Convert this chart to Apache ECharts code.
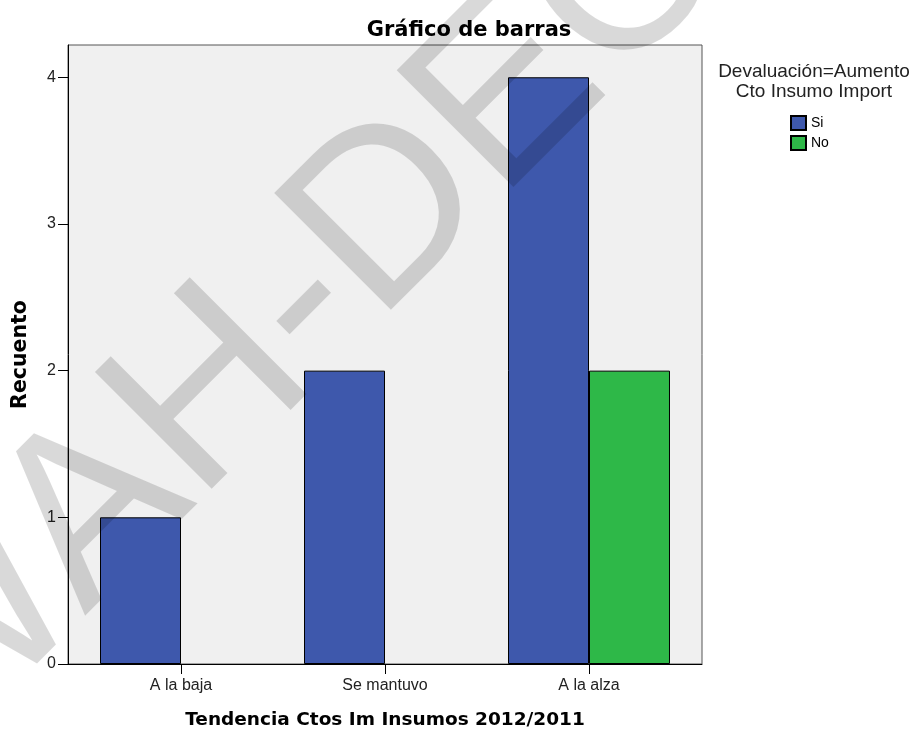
<!DOCTYPE html>
<html>
<head>
<meta charset="utf-8">
<script src="https://cdn.jsdelivr.net/npm/echarts@6/dist/echarts.min.js"></script>
<style>
  html, body { margin: 0; padding: 0; background: #fff; }
  #chart { width: 911px; height: 732px; }
</style>
</head>
<body>
<div id="chart"></div>
<script>
// datos
const categorias = ['A la baja', 'Se mantuvo', 'A la alza']
const valoresSi = [1, 2, 4]
const valoresNo = [null, null, 2]
const ticksY = [0, 1, 2, 3, 4]

let myChart = echarts.init(document.getElementById('chart'))
myChart.setOption({
  animation: false,
  backgroundColor: '#fff',
  title: [
    {
      text: 'Gráfico de barras',
      left: 464,
      top: 15,
      textAlign: 'center',
      textStyle: { fontFamily: 'DejaVu Sans', fontWeight: 'bold', fontSize: 21, color: '#000' }
    },
    {
      text: 'Devaluación=Aumento\nCto Insumo Import',
      left: 809,
      top: 57,
      textAlign: 'center',
      textStyle: { fontFamily: 'Liberation Sans', fontWeight: 'normal', fontSize: 19, lineHeight: 20, color: '#222' }
    }
  ],
  legend: {
    orient: 'vertical',
    left: 790,
    top: 115,
    padding: 0,
    itemWidth: 15,
    itemHeight: 14,
    itemGap: 4,
    itemTextGap: 2,
    icon: 'rect',
    textStyle: { fontFamily: 'Liberation Sans', fontSize: 14, color: '#000' },
    data: ['Si', 'No']
  },
  grid: [
    {
      // marco del area de trazado
      left: 68, right: 209, top: 45, bottom: 68,
      outerBoundsMode: 'none',
      show: true,
      backgroundColor: '#f0f0f0',
      borderColor: '#555',
      borderWidth: 1
    },
    {
      // barras, con margen extra a los lados como en SPSS
      left: 79, right: 220, top: 45, bottom: 68,
      outerBoundsMode: 'none'
    }
  ],
  xAxis: [
    {
      gridIndex: 0,
      type: 'category',
      data: categorias,
      axisLine: { lineStyle: { color: '#000', width: 1 } },
      axisTick: { show: false },
      axisLabel: { show: false },
      name: 'Tendencia Ctos Im Insumos 2012/2011',
      nameLocation: 'middle',
      nameGap: 47,
      nameTextStyle: { fontFamily: 'DejaVu Sans', fontWeight: 'bold', fontSize: 18.5, color: '#000' }
    },
    {
      gridIndex: 1,
      type: 'category',
      data: categorias,
      axisLine: { show: false },
      axisTick: { show: true, alignWithLabel: true, length: 10, lineStyle: { color: '#000' } },
      axisLabel: { margin: 14, fontFamily: 'Liberation Sans', fontSize: 16, color: '#222' }
    }
  ],
  yAxis: [
    {
      gridIndex: 0,
      type: 'value',
      min: 0,
      max: 4.22,
      interval: 1,
      splitLine: { show: false },
      axisLine: { show: true, lineStyle: { color: '#000', width: 1 } },
      axisTick: { show: true, length: 10, customValues: ticksY, lineStyle: { color: '#000' } },
      axisLabel: { margin: 12, customValues: ticksY, fontFamily: 'Liberation Sans', fontSize: 16, color: '#222' },
      name: 'Recuento',
      nameLocation: 'middle',
      nameGap: 37,
      nameTextStyle: { fontFamily: 'DejaVu Sans', fontWeight: 'bold', fontSize: 20.5, color: '#000' }
    },
    {
      gridIndex: 1,
      type: 'value',
      min: 0,
      max: 4.22,
      show: false,
      splitLine: { show: false }
    }
  ],
  graphic: [
    {
      // marca de agua diagonal
      type: 'text',
      x: -116,
      y: 723,
      rotation: Math.PI / 4,
      z: 100,
      silent: true,
      style: {
        text: 'WAH-DEC',
        font: '240px "Liberation Sans"',
        fill: 'rgba(0,0,0,0.15)',
        textAlign: 'left',
        textVerticalAlign: 'middle'
      }
    }
  ],
  series: [
    {
      name: 'Si',
      type: 'bar',
      xAxisIndex: 1,
      yAxisIndex: 1,
      data: valoresSi,
      barGap: 0,
      barCategoryGap: '20.6%',
      itemStyle: { color: '#3e58ac', borderColor: '#000', borderWidth: 1 }
    },
    {
      name: 'No',
      type: 'bar',
      xAxisIndex: 1,
      yAxisIndex: 1,
      data: valoresNo,
      barGap: 0,
      barCategoryGap: '20.6%',
      itemStyle: { color: '#2eb848', borderColor: '#000', borderWidth: 1 }
    }
  ]
})
</script>
</body>
</html>
